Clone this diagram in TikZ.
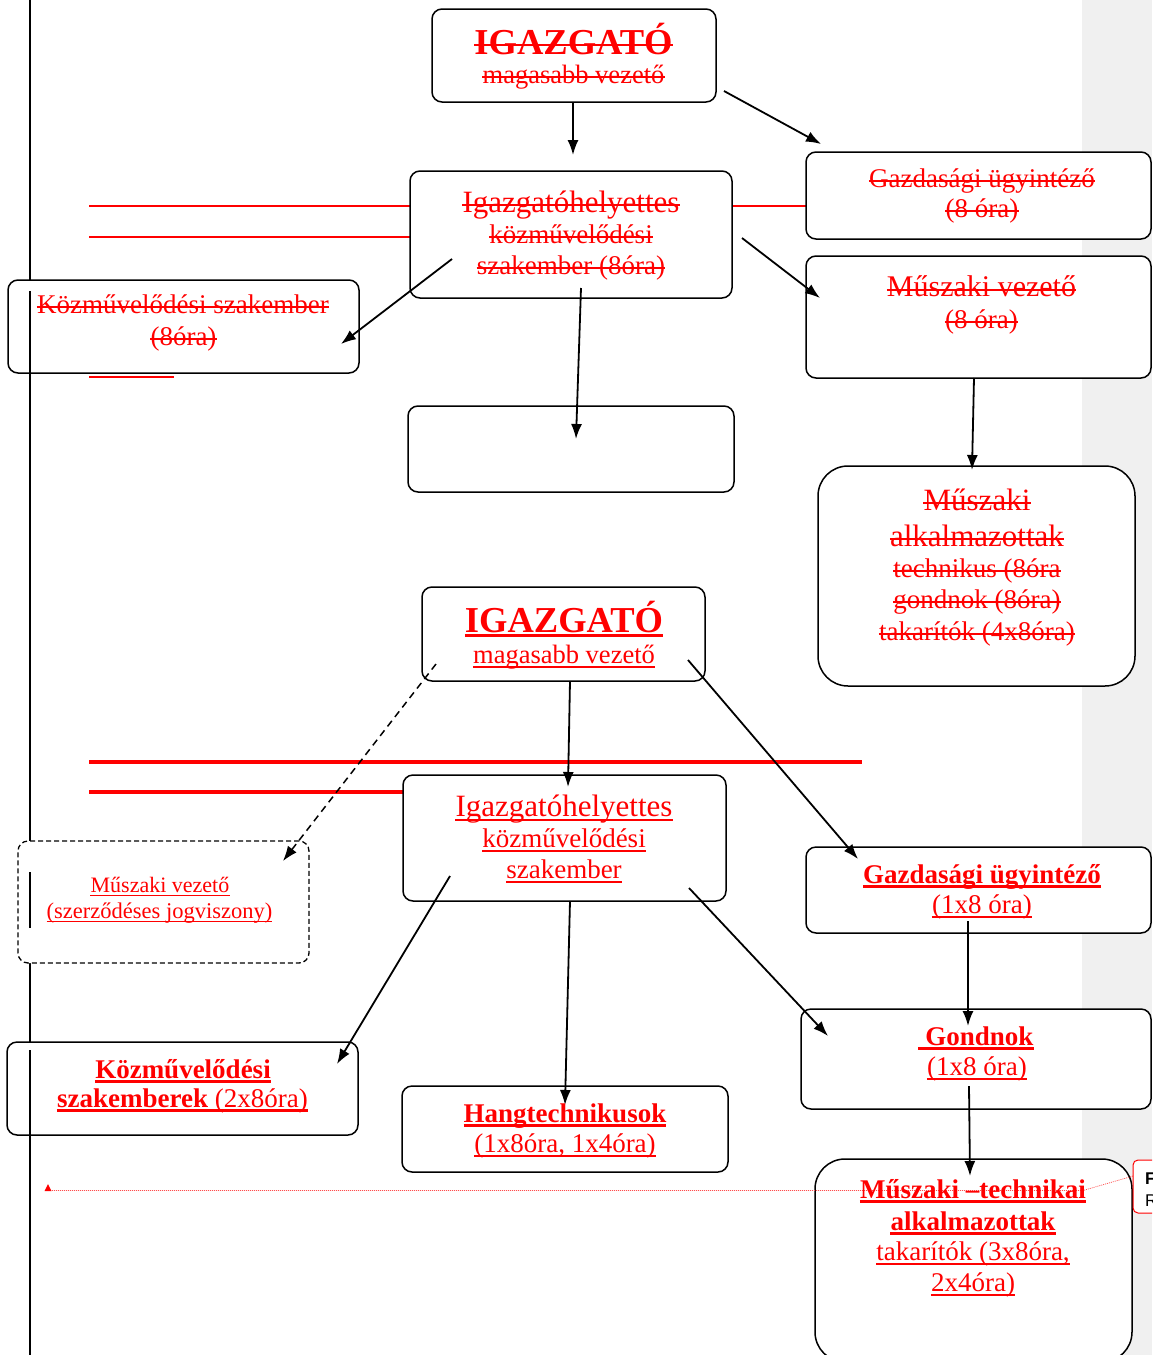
\documentclass[tikz,border=0pt]{standalone}
\usepackage{fontspec}
\setmainfont{Liberation Serif}
\newfontfamily\cmtfont{Liberation Sans}
\usetikzlibrary{arrows.meta}
\newcommand\fsz[1]{\fontsize{#1pt}{#1pt}\selectfont}
\definecolor{pagegrey}{HTML}{F0F0F0}
\definecolor{docred}{HTML}{FF0000}
% underline: node, thickness
\newcommand\UL[2]{\draw[docred, line width=#2] ([yshift=-3.5pt]#1.base west) -- ([yshift=-3.5pt]#1.base east);}
% strike: node, raise
\newcommand\ST[2]{\draw[docred, line width=2pt] ([yshift=#2]#1.base west) -- ([yshift=#2]#1.base east);}
\begin{document}
\begin{tikzpicture}[x=1pt,y=-1pt,
  box/.style={draw=black, line width=1.5pt, rounded corners=10pt, fill=white, inner sep=0pt, outer sep=0pt},
  bigbox/.style={box, rounded corners=30pt},
  dbox/.style={box, dash pattern=on 5pt off 3pt, line width=1.3pt},
  arr/.style={draw=black, line width=1.8pt, -{Latex[length=15pt,width=11pt]}},
  darr/.style={arr, dash pattern=on 7pt off 5pt, line width=1.5pt},
  rline/.style={draw=docred, line width=2pt},
  rthick/.style={draw=docred, line width=4pt},
  vline/.style={draw=black, line width=2pt},
  t/.style={text=docred, inner sep=0pt, anchor=base},
  cline/.style={draw=docred!70, line width=0.7pt, dash pattern=on 1pt off 1pt}
]
\useasboundingbox (0,0) rectangle (1152,1355);
\clip (0,0) rectangle (1152,1355);
\fill[white] (0,0) rectangle (1152,1355);
\fill[pagegrey] (1082,0) rectangle (1152,1355);

% left margin line
\coordinate (vl1) at (30,0); \coordinate (vl2) at (30,1355);
\draw[vline] (vl1) -- (vl2);

% red lines
\coordinate (r1a) at (89,206); \coordinate (r1b) at (410,206);
\coordinate (r2a) at (89,237); \coordinate (r2b) at (410,237);
\coordinate (r3a) at (732,206); \coordinate (r3b) at (806,206);
\coordinate (r4a) at (89,377); \coordinate (r4b) at (174,377);
\coordinate (r5a) at (89,762); \coordinate (r5b) at (862,762);
\coordinate (r6a) at (89,792); \coordinate (r6b) at (403,792);
\draw[rline] (r1a) -- (r1b);
\draw[rline] (r2a) -- (r2b);
\draw[rline] (r3a) -- (r3b);
\draw[rline] (r4a) -- (r4b);
\draw[rthick] (r5a) -- (r5b);
\draw[rthick] (r6a) -- (r6b);

% ---------- boxes: upper (struck) chart
\node[box, minimum width=284pt, minimum height=93pt] (b1) at (574,55.5) {};
\node[box, minimum width=322pt, minimum height=127pt] (b2) at (571,234.5) {};
\node[box, minimum width=345pt, minimum height=87pt] (b3) at (978.5,195.5) {};
\node[box, minimum width=345pt, minimum height=122pt] (b4) at (978.5,317) {};
\node[box, minimum width=351pt, minimum height=93pt] (b5) at (183.5,326.5) {};
\node[box, minimum width=326pt, minimum height=86pt] (b6) at (571,449) {};
\node[bigbox, minimum width=317pt, minimum height=220pt] (b7) at (976.5,576) {};

% ---------- boxes: lower chart
\node[box, minimum width=283pt, minimum height=94pt] (b8) at (563.5,634) {};
\node[box, minimum width=323pt, minimum height=126pt] (b9) at (564.5,838) {};
\node[dbox, minimum width=291pt, minimum height=122pt] (b10) at (163.5,902) {};
\node[box, minimum width=345pt, minimum height=86pt] (b11) at (978.5,890) {};
\node[box, minimum width=350pt, minimum height=100pt] (b12) at (976,1059) {};
\node[bigbox, minimum width=317pt, minimum height=203pt] (b13) at (973.5,1260.5) {};
\node[box, minimum width=351pt, minimum height=93pt] (b14) at (182.5,1088.5) {};
\node[box, minimum width=326pt, minimum height=86pt] (b15) at (565,1129) {};

% margin line pieces showing inside boxes
\coordinate (v1a) at (30,291); \coordinate (v1b) at (30,373);
\coordinate (v2a) at (30,872); \coordinate (v2b) at (30,928);
\coordinate (v3a) at (30,1050); \coordinate (v3b) at (30,1135);
\draw[vline] (v1a) -- (v1b);
\draw[vline] (v2a) -- (v2b);
\draw[vline] (v3a) -- (v3b);

% ---------- connectors
\coordinate (a1s) at (573,102);  \coordinate (a1e) at (573,155);
\coordinate (a2s) at (724,91);   \coordinate (a2e) at (821,144);
\coordinate (a3s) at (742,238);  \coordinate (a3e) at (820,298);
\coordinate (a4s) at (452,259);  \coordinate (a4e) at (341,344);
\coordinate (a5s) at (581,288);  \coordinate (a5e) at (576,439);
\coordinate (a6s) at (974,378);  \coordinate (a6e) at (972,470);
\coordinate (a7s) at (436,664);  \coordinate (a7e) at (283,861);
\coordinate (a8s) at (570,681);  \coordinate (a8e) at (568,787);
\coordinate (a9s) at (688,660);  \coordinate (a9e) at (858,859);
\coordinate (a10s) at (450,876); \coordinate (a10e) at (337,1064);
\coordinate (a11s) at (570,901); \coordinate (a11e) at (565,1105);
\coordinate (a12s) at (689,888); \coordinate (a12e) at (828,1036);
\coordinate (a13s) at (968,921); \coordinate (a13e) at (968,1026);
\coordinate (a14s) at (969,1086);\coordinate (a14e) at (970,1176);
\draw[arr] (a1s) -- (a1e);
\draw[arr] (a2s) -- (a2e);
\draw[arr] (a3s) -- (a3e);
\draw[arr] (a4s) -- (a4e);
\draw[arr] (a5s) -- (a5e);
\draw[arr] (a6s) -- (a6e);
\draw[darr] (a7s) -- (a7e);
\draw[arr] (a8s) -- (a8e);
\draw[arr] (a9s) -- (a9e);
\draw[arr] (a10s) -- (a10e);
\draw[arr] (a11s) -- (a11e);
\draw[arr] (a12s) -- (a12e);
\draw[arr] (a13s) -- (a13e);
\draw[arr] (a14s) -- (a14e);

% comment marker line
\coordinate (c1) at (50,1190.5); \coordinate (c2) at (1083,1190.5); \coordinate (c3) at (1133,1176);
\draw[cline] (c1) -- (c2) -- (c3);
\fill[docred] (44.5,1191) -- (51.5,1191) -- (48,1184) -- cycle;

% ---------- texts: upper chart (struck out)
\node[t, font={\fsz{36.5}\bfseries}] (t1a) at (573.5,54) {IGAZGATÓ};
\node[t, font=\fsz{26.5}] (t1b) at (573.5,83) {magasabb vezető};
\node[t, font=\fsz{31}] (t2a) at (571,212) {Igazgatóhelyettes};
\node[t, font=\fsz{27}] (t2b) at (571,243) {közművelődési};
\node[t, font=\fsz{27}] (t2c) at (571,274) {szakember (8óra)};
\node[t, font=\fsz{27}] (t3a) at (982,187) {Gazdasági ügyintéző};
\node[t, font=\fsz{27}] (t3b) at (982,217) {(8 óra)};
\node[t, font=\fsz{30}] (t4a) at (981.5,296) {Műszaki vezető};
\node[t, font=\fsz{27}] (t4b) at (981.5,328) {(8 óra)};
\node[t, font=\fsz{27}] (t5a) at (183,313) {Közművelődési szakember};
\node[t, font=\fsz{27}] (t5b) at (183.5,345) {(8óra)};
\node[t, font=\fsz{31}] (t7a) at (977,510) {Műszaki};
\node[t, font=\fsz{31}] (t7b) at (977,546) {alkalmazottak};
\node[t, font=\fsz{27}] (t7c) at (977,577) {technikus (8óra};
\node[t, font=\fsz{27}] (t7d) at (977,608) {gondnok (8óra)};
\node[t, font=\fsz{27}] (t7e) at (977,640) {takarítók (4x8óra)};
\ST{t1a}{9pt} \ST{t1b}{6pt} \ST{t2a}{7pt} \ST{t2b}{6pt} \ST{t2c}{6pt}
\ST{t3a}{6pt} \ST{t3b}{6pt} \ST{t4a}{6.5pt} \ST{t4b}{6pt} \ST{t5a}{6pt} \ST{t5b}{6pt}
\ST{t7a}{7pt} \ST{t7b}{7pt} \ST{t7c}{6pt} \ST{t7d}{6pt} \ST{t7e}{6pt}

% ---------- texts: lower chart (underlined)
\node[t, font={\fsz{36.5}\bfseries}] (t8a) at (564,632) {IGAZGATÓ};
\node[t, font=\fsz{26.5}] (t8b) at (564,663) {magasabb vezető};
\node[t, font=\fsz{31}] (t9a) at (564,816) {Igazgatóhelyettes};
\node[t, font=\fsz{27}] (t9b) at (564,847) {közművelődési};
\node[t, font=\fsz{27}] (t9c) at (564,878) {szakember};
\node[t, font=\fsz{22}] (t10a) at (160,892) {Műszaki vezető};
\node[t, font=\fsz{22.5}] (t10b) at (159.5,918) {(szerződéses jogviszony)};
\node[t, font={\fsz{27}\bfseries}] (t11a) at (982,883) {Gazdasági ügyintéző};
\node[t, font=\fsz{27}] (t11b) at (982,913) {(1x8 óra)};
\node[t, font={\fsz{27}\bfseries}] (t12a) at (976,1045) {~Gondnok};
\node[t, font=\fsz{27}] (t12b) at (977,1075) {(1x8 óra)};
\node[t, font={\fsz{27}\bfseries}] (t13a) at (973,1198) {Műszaki –technikai};
\node[t, font={\fsz{27}\bfseries}] (t13b) at (973,1230) {alkalmazottak};
\node[t, font=\fsz{27}] (t13c) at (973,1260) {takarítók (3x8óra,};
\node[t, font=\fsz{27}] (t13d) at (973,1291) {2x4óra)};
\node[t, font={\fsz{27}\bfseries}] (t14a) at (183,1078) {Közművelődési};
\node[t, font=\fsz{27}] (t14b) at (182.5,1107) {\textbf{szakemberek} (2x8óra)};
\node[t, font={\fsz{27}\bfseries}] (t15a) at (565,1122) {Hangtechnikusok};
\node[t, font=\fsz{27}] (t15b) at (565,1152) {(1x8óra, 1x4óra)};
\UL{t8a}{3pt} \UL{t8b}{2pt} \UL{t9a}{2pt} \UL{t9b}{2pt} \UL{t9c}{2pt}
\UL{t10a}{1.5pt} \UL{t10b}{1.5pt} \UL{t11a}{2.6pt} \UL{t11b}{2pt}
\UL{t12a}{2.6pt} \UL{t12b}{2pt} \UL{t13a}{2.6pt} \UL{t13b}{2.6pt} \UL{t13c}{2pt} \UL{t13d}{2pt}
\UL{t14a}{2.6pt} \UL{t14b}{2.6pt} \UL{t15a}{2.6pt} \UL{t15b}{2pt}

% comment balloon (cut by page edge)
\node[draw=docred, line width=1pt, rounded corners=5pt, fill=white, minimum width=50pt, minimum height=53pt, inner sep=0pt] (cmt) at (1158,1186.5) {};
\node[anchor=base west, inner sep=0pt, font={\cmtfont\fsz{17}\bfseries}] (cmtF) at (1145,1184) {F};
\node[anchor=base west, inner sep=0pt, font={\cmtfont\fsz{17}}] (cmtR) at (1145,1206) {R};
\end{tikzpicture}
\end{document}
